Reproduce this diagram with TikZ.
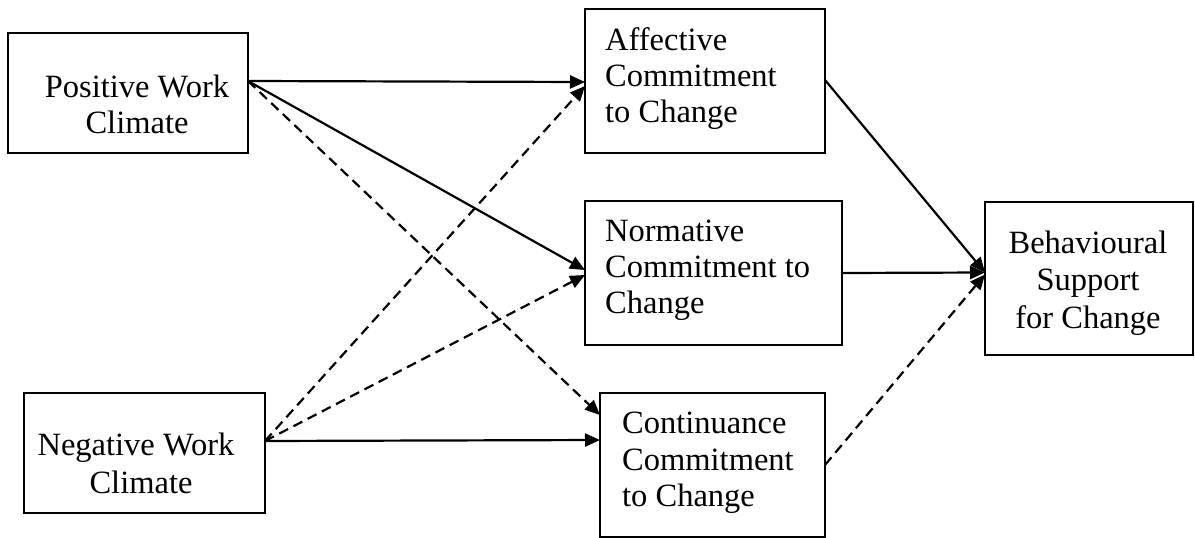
\documentclass[tikz,border=0pt]{standalone}
\usepackage{fontspec}
\setmainfont{Liberation Serif}
\usetikzlibrary{arrows.meta}
\begin{document}
\begin{tikzpicture}[x=1pt,y=-1pt,
  box/.style={draw, line width=1.9pt, rectangle, anchor=north west, inner sep=0pt, outer sep=0pt},
  txt/.style={inner sep=0pt, font=\fontsize{32.5}{36}\selectfont},
  conn/.style={line width=2.2pt, -{Triangle[length=15pt,width=13pt]}},
  dsh/.style={conn, dash pattern=on 10pt off 6pt}]
\useasboundingbox (0,0) rectangle (1195,538);
% boxes
\node[box, minimum width=240pt, minimum height=120pt] (pwc) at (8,33) {};
\node[box, minimum width=241pt, minimum height=120pt] (nwc) at (24,393) {};
\node[box, minimum width=240pt, minimum height=144pt] (acc) at (585,9) {};
\node[box, minimum width=257pt, minimum height=144pt] (ncc) at (585,201) {};
\node[box, minimum width=225pt, minimum height=144pt] (ccc) at (600,393) {};
\node[box, minimum width=208pt, minimum height=153pt] (bsc) at (985,202) {};
% texts
\node[txt, anchor=base] (t1) at (137,97) {Positive Work};
\node[txt, anchor=base] (t2) at (137,133) {Climate};
\node[txt, anchor=base] (t3) at (136,455) {Negative Work};
\node[txt, anchor=base] (t4) at (141,493) {Climate};
\node[txt, anchor=base west] (t5) at (605,50) {Affective};
\node[txt, anchor=base west] (t6) at (605,86) {Commitment};
\node[txt, anchor=base west] (t7) at (605,122) {to Change};
\node[txt, anchor=base west] (t8) at (605,241) {Normative};
\node[txt, anchor=base west] (t9) at (605,277) {Commitment to};
\node[txt, anchor=base west] (t10) at (605,313) {Change};
\node[txt, anchor=base west] (t11) at (622,433) {Continuance};
\node[txt, anchor=base west] (t12) at (622,470) {Commitment};
\node[txt, anchor=base west] (t13) at (622,506) {to Change};
\node[txt, anchor=base] (t14) at (1088,253) {Behavioural};
\node[txt, anchor=base] (t15) at (1088,290) {Support};
\node[txt, anchor=base] (t16) at (1088,328) {for Change};
% connectors
\draw[conn] ([yshift=12pt]pwc.east) -- ([yshift=-1pt]acc.west);
\draw[conn] ([yshift=12pt]pwc.east) -- ([yshift=3pt]ncc.west);
\draw[dsh]  ([yshift=12pt]pwc.east) -- ([yshift=50pt]ccc.west);
\draw[dsh]  ([yshift=12pt]nwc.east) -- ([yshift=-5pt]acc.west);
\draw[dsh]  ([yshift=12pt]nwc.east) -- ([yshift=-2pt]ncc.west);
\draw[conn] ([yshift=12pt]nwc.east) -- ([yshift=25pt]ccc.west);
\draw[conn] ([yshift=1pt]acc.east) -- ([yshift=6pt]bsc.west);
\draw[conn] (ncc.east) -- ([yshift=6pt]bsc.west);
\draw[dsh]  (ccc.east) -- ([yshift=4pt]bsc.west);
\end{tikzpicture}
\end{document}
